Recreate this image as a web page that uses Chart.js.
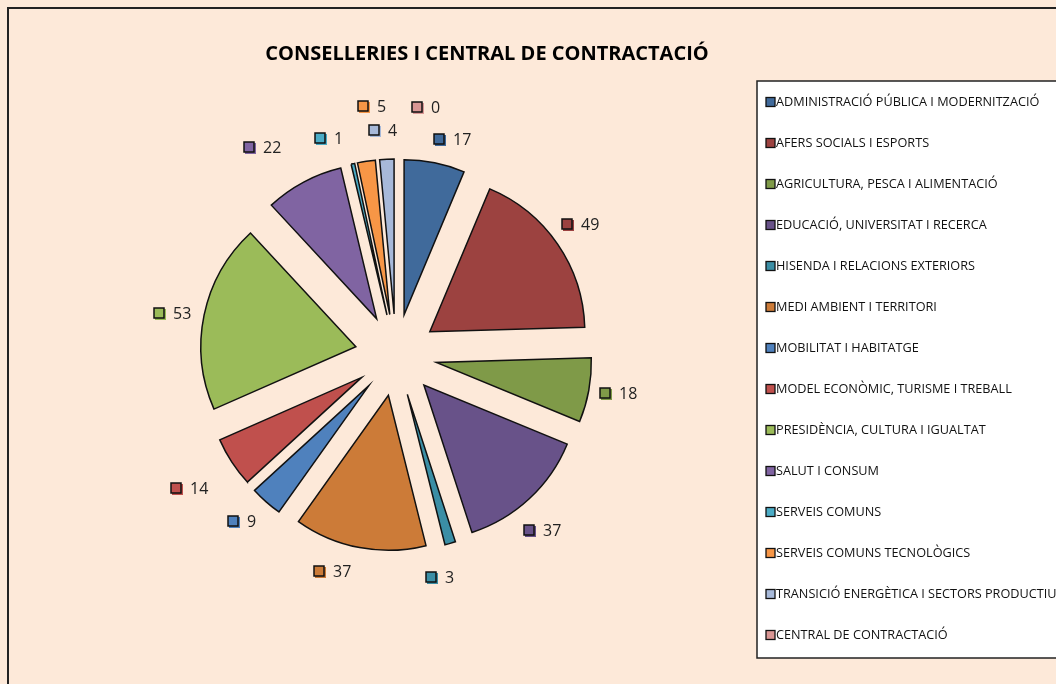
<!DOCTYPE html>
<html>
<head>
<meta charset="utf-8">
<script src="https://cdn.jsdelivr.net/npm/chart.js@4.4.0/dist/chart.umd.min.js"></script>
<style>
  html, body { margin: 0; padding: 0; background: #FDE9D9; }
  #wrap { width: 1056px; height: 684px; }
</style>
</head>
<body>
<div id="wrap"><canvas id="pieChart" width="1056" height="684"></canvas></div>
<script>
/* dades */
const chartTitle = "CONSELLERIES I CENTRAL DE CONTRACTACIÓ";
const categories = [
    "ADMINISTRACIÓ PÚBLICA I MODERNITZACIÓ",
    "AFERS SOCIALS I ESPORTS",
    "AGRICULTURA, PESCA I ALIMENTACIÓ",
    "EDUCACIÓ, UNIVERSITAT I RECERCA",
    "HISENDA I RELACIONS EXTERIORS",
    "MEDI AMBIENT I TERRITORI",
    "MOBILITAT I HABITATGE",
    "MODEL ECONÒMIC, TURISME I TREBALL",
    "PRESIDÈNCIA, CULTURA I IGUALTAT",
    "SALUT I CONSUM",
    "SERVEIS COMUNS",
    "SERVEIS COMUNS TECNOLÒGICS",
    "TRANSICIÓ ENERGÈTICA I SECTORS PRODUCTIUS",
    "CENTRAL DE CONTRACTACIÓ"
];
const values = [17, 49, 18, 37, 3, 37, 9, 14, 53, 22, 1, 5, 4, 0];

/* estil */
const sliceColors = [
    "#406A9B", "#9C4240", "#7F9A48", "#685289", "#3B8EA5", "#CC7B38", "#4F81BD",
    "#C0504D", "#9BBB59", "#8064A2", "#4BACC6", "#F79646", "#A7B9D9", "#D99694"
];
// petits desplaçaments de les etiquetes (com fa Excel per evitar solapaments)
const labelNudgeX = [12, -2, 0, -7, -18, -21, -4, -17, -2, -27, -17, 10, -2, 30];
const labelNudgeY = [6, -3, -2, 10, 5, -6, -3, 10, 4, -8, 4, -25, 1, -22];

const EXPLODE = 41;
const LABEL_DIST = 226;
const FONT = "'Open Sans', 'Noto Sans', sans-serif";

/* ====== plugins ====== */
const fonsPlugin = {
    id: "fons",
    beforeDraw(chart) {
        const ctx = chart.ctx;
        ctx.save();
        ctx.fillStyle = "#FDE9D9";
        ctx.fillRect(0, 0, chart.width, chart.height);
        ctx.strokeStyle = "#222";
        ctx.lineWidth = 2;
        ctx.strokeRect(8, 8, chart.width + 20, chart.height + 20);
        // títol
        ctx.fillStyle = "#000";
        ctx.font = "bold 20px " + FONT;
        ctx.textAlign = "center";
        ctx.textBaseline = "middle";
        ctx.fillText(chartTitle, 487, 54);
        ctx.restore();
    }
};

// separa cada porció del centre al llarg del seu angle mitjà
const explodePlugin = {
    id: "explode",
    afterDatasetUpdate(chart, args) {
        args.meta.data.forEach(arc => {
            const mid = (arc.startAngle + arc.endAngle) / 2;
            arc.x += Math.cos(mid) * EXPLODE;
            arc.y += Math.sin(mid) * EXPLODE;
        });
    }
};

const etiquetesPlugin = {
    id: "etiquetes",
    afterDatasetsDraw(chart) {
        const ctx = chart.ctx;
        const area = chart.chartArea;
        const cx = (area.left + area.right) / 2;
        const cy = (area.top + area.bottom) / 2;
        const meta = chart.getDatasetMeta(0);
        ctx.save();
        ctx.font = "16px " + FONT;
        ctx.textBaseline = "middle";
        meta.data.forEach((arc, i) => {
            const mid = (arc.startAngle + arc.endAngle) / 2;
            const txt = String(values[i]);
            const w = 11 + 8 + ctx.measureText(txt).width;
            const gx = cx + Math.cos(mid) * LABEL_DIST + labelNudgeX[i];
            const gy = cy + Math.sin(mid) * LABEL_DIST + labelNudgeY[i];
            const left = Math.round(gx - w / 2);
            const top = Math.round(gy - 5.5);
            ctx.fillStyle = sliceColors[i];
            ctx.fillRect(left + 1, top + 1, 11, 11);
            ctx.fillRect(left, top, 10, 10);
            ctx.strokeStyle = "#111";
            ctx.lineWidth = 1.5;
            ctx.strokeRect(left, top, 10, 10);
            ctx.fillStyle = "#222";
            ctx.textAlign = "left";
            ctx.fillText(txt, left + 19, gy + 1);
        });
        ctx.restore();
    }
};

const llegendaPlugin = {
    id: "llegenda",
    afterDraw(chart) {
        const ctx = chart.ctx;
        ctx.save();
        ctx.fillStyle = "#FFFFFF";
        ctx.fillRect(757, 81, 320, 577);
        ctx.strokeStyle = "#222";
        ctx.lineWidth = 1.5;
        ctx.strokeRect(757, 81, 320, 577);
        ctx.font = "12.7px " + FONT;
        ctx.textBaseline = "middle";
        ctx.textAlign = "left";
        categories.forEach((nom, i) => {
            const y = 102 + i * 41;
            ctx.fillStyle = sliceColors[i];
            ctx.fillRect(766, y - 4.5, 9, 9);
            ctx.strokeStyle = "#111";
            ctx.lineWidth = 1.3;
            ctx.strokeRect(766, y - 4.5, 9, 9);
            ctx.fillStyle = "#111";
            ctx.fillText(nom, 776, y);
        });
        ctx.restore();
    }
};

/* ====== gràfic ====== */
const chart = new Chart(document.getElementById("pieChart"), {
    type: "pie",
    data: {
        labels: categories,
        datasets: [{
            data: values,
            backgroundColor: sliceColors,
            borderColor: "#111",
            borderWidth: 1.5,
            borderJoinStyle: "miter"
        }]
    },
    options: {
        responsive: false,
        animation: false,
        radius: 155,
        layout: { padding: { left: 40, right: 304, top: 60, bottom: 34 } },
        plugins: {
            legend: { display: false },
            title: { display: false },
            tooltip: { enabled: false }
        }
    },
    plugins: [fonsPlugin, explodePlugin, etiquetesPlugin, llegendaPlugin]
});
</script>
</body>
</html>
